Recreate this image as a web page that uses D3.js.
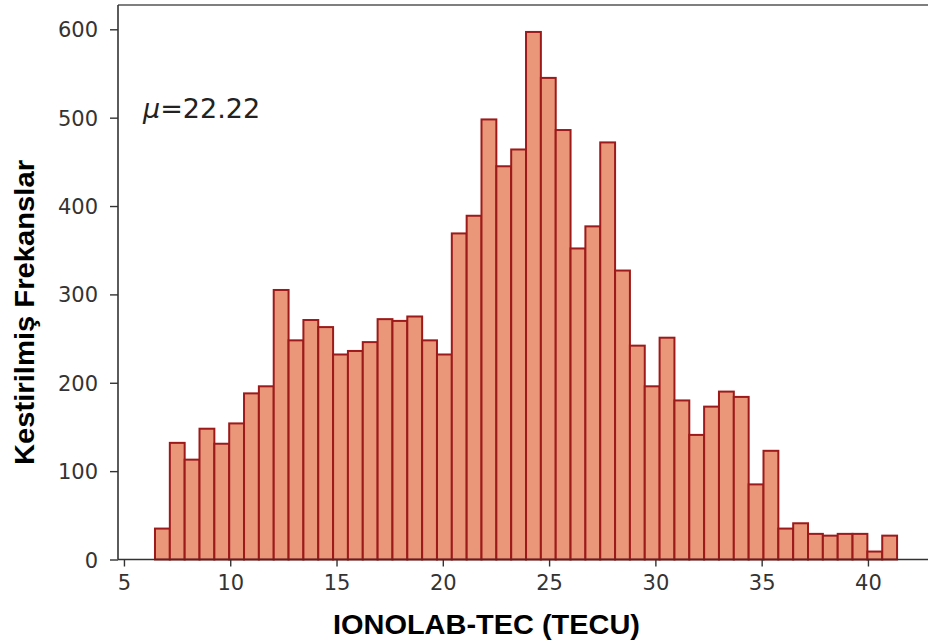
<!DOCTYPE html>
<html>
<head>
<meta charset="utf-8">
<script src="https://cdn.jsdelivr.net/npm/d3@7"></script>
<style>
  body { margin: 0; background: #fff; }
  svg { display: block; }
</style>
</head>
<body>
<svg id="chart" width="928" height="643"></svg>
<script>
    'use strict';

    // histogram counts, 50 equal bins over histRange
    var counts = [35, 132, 113, 148, 131, 154, 188, 196, 305, 248,
                  271, 263, 232, 236, 246, 272, 270, 275, 248, 232,
                  369, 389, 498, 445, 464, 597, 545, 486, 352, 377,
                  472, 327, 242, 196, 251, 180, 141, 173, 190, 184,
                  85, 123, 35, 41, 29, 27, 29, 29, 9, 27],
        histRange = [6.46, 41.37],
        xTicks = [5, 10, 15, 20, 25, 30, 35, 40],
        yTicks = [0, 100, 200, 300, 400, 500, 600],
        meanLabel = '22.22',
        xTitle = 'IONOLAB-TEC (TECU)',
        yTitle = 'Kestirilmiş Frekanslar';

    (function(){
        var svg = d3.select( '#chart' ),
            plotLeft = 118, plotTop = 5, plotBottom = 559.5,
            x = d3.scaleLinear()
                .domain( [4.72, 43.04] )
                .range( [plotLeft, plotLeft + 38.32 * 21.257] ),
            y = d3.scaleLinear()
                .domain( [0, 627.5] )
                .range( [plotBottom, plotTop] ),
            binW = ( histRange[1] - histRange[0] ) / counts.length,
            bins = counts.map(function( c, i ){
                return { x0: histRange[0] + i * binW, x1: histRange[0] + ( i + 1 ) * binW, n: c };
            });

        svg.append( 'g' ).selectAll( 'rect' )
            .data( bins )
            .join( 'rect' )
            .attr( 'x', function( d ){ return x( d.x0 ); } )
            .attr( 'y', function( d ){ return y( d.n ); } )
            .attr( 'width', function( d ){ return x( d.x1 ) - x( d.x0 ); } )
            .attr( 'height', function( d ){ return y( 0 ) - y( d.n ); } )
            .attr( 'fill', '#ea9679' )
            .attr( 'stroke', '#9c1a1a' )
            .attr( 'stroke-width', 2 );

        // axes
        var $x = svg.append( 'g' )
                .attr( 'transform', 'translate(0,' + plotBottom + ')' )
                .call( d3.axisBottom( x ).tickValues( xTicks ).tickSize( 7 ).tickPadding( 9 ) ),
            $y = svg.append( 'g' )
                .attr( 'transform', 'translate(' + plotLeft + ',0)' )
                .call( d3.axisLeft( y ).tickValues( yTicks ).tickSize( 8 ).tickPadding( 12 ) );

        [$x, $y].forEach(function( $a ){
            $a.select( '.domain' ).remove();
            $a.selectAll( 'line' ).attr( 'stroke', '#333' ).attr( 'stroke-width', 1.4 );
            $a.selectAll( 'text' )
                .attr( 'fill', '#333' )
                .style( 'font-family', '"DejaVu Sans", sans-serif' )
                .style( 'font-size', '21px' );
        });
        $y.selectAll( 'text' ).attr( 'dy', '0.36em' );

        // spines
        svg.append( 'line' )
            .attr( 'x1', plotLeft ).attr( 'x2', 928 ).attr( 'y1', plotBottom ).attr( 'y2', plotBottom )
            .attr( 'stroke', '#333' ).attr( 'stroke-width', 1.6 );
        svg.append( 'line' )
            .attr( 'x1', plotLeft ).attr( 'x2', 928 ).attr( 'y1', plotTop ).attr( 'y2', plotTop )
            .attr( 'stroke', '#555' ).attr( 'stroke-width', 1.6 );
        svg.append( 'line' )
            .attr( 'x1', plotLeft ).attr( 'x2', plotLeft ).attr( 'y1', plotTop ).attr( 'y2', plotBottom )
            .attr( 'stroke', '#333' ).attr( 'stroke-width', 1.6 );

        // mean annotation
        var $mu = svg.append( 'text' )
            .attr( 'x', 143 )
            .attr( 'y', 118 )
            .attr( 'fill', '#222' )
            .style( 'font-family', '"DejaVu Sans", sans-serif' )
            .style( 'font-size', '27px' );
        $mu.append( 'tspan' ).style( 'font-style', 'italic' ).text( 'μ' );
        $mu.append( 'tspan' ).text( '=' + meanLabel );

        // axis titles
        svg.append( 'text' )
            .attr( 'x', 486.5 )
            .attr( 'y', 634 )
            .attr( 'text-anchor', 'middle' )
            .attr( 'textLength', 307 )
            .attr( 'lengthAdjust', 'spacingAndGlyphs' )
            .style( 'font-family', '"Liberation Sans", Arial, sans-serif' )
            .style( 'font-weight', 'bold' )
            .style( 'font-size', '28px' )
            .text( xTitle );

        svg.append( 'text' )
            .attr( 'transform', 'translate(34,312.5) rotate(-90)' )
            .attr( 'text-anchor', 'middle' )
            .attr( 'textLength', 305 )
            .attr( 'lengthAdjust', 'spacingAndGlyphs' )
            .style( 'font-family', '"Liberation Sans", Arial, sans-serif' )
            .style( 'font-weight', 'bold' )
            .style( 'font-size', '28px' )
            .text( yTitle );
    })();
</script>
</body>
</html>
